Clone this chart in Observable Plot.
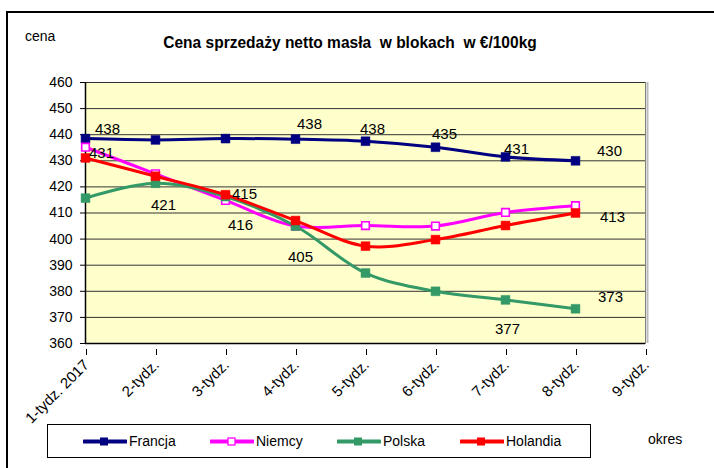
<!DOCTYPE html>
<html>
<head>
<meta charset="utf-8">
<script src="https://cdn.jsdelivr.net/npm/d3@7"></script>
<script src="https://cdn.jsdelivr.net/npm/@observablehq/plot@0.6"></script>
<style>
  body { margin: 0; background: #fff; font-family: Arial, "Liberation Sans", sans-serif; }
  #wrap { position: relative; width: 714px; height: 468px; overflow: hidden; }
  #box { position: absolute; left: 6px; top: 11px; width: 720px; height: 470px; border-left: 2px solid #000; border-top: 2px solid #000; }
  #chart { position: absolute; left: 0; top: 0; }
  .lbl { position: absolute; color: #000; white-space: nowrap; }
  #title { left: 0; width: 700px; text-align: center; top: 34px; font-weight: bold; font-size: 16px; transform: scaleX(0.97); }
  #cena { left: 25px; top: 28px; font-size: 14px; }
  #okres { left: 648px; top: 431px; font-size: 14px; }
  #legend { position: absolute; left: 47px; top: 424px; width: 542px; height: 32px; border: 1px solid #000; background: #fff; }
  .item { position: absolute; top: 0; height: 32px; display: flex; align-items: center; font-size: 14px; }
  .item svg { margin-right: 2px; }
</style>
</head>
<body>
<div id="wrap">
  <div id="box"></div>
  <div id="chart"></div>
  <div class="lbl" id="cena">cena</div>
  <div class="lbl" id="title">Cena sprzedaży netto masła&nbsp; w blokach&nbsp; w €/100kg</div>
  <div id="legend"></div>
  <div class="lbl" id="okres">okres</div>
</div>
<script>
// ---- data ----
const weeks = ["1-tydz. 2017", "2-tydz.", "3-tydz.", "4-tydz.", "5-tydz.", "6-tydz.", "7-tydz.", "8-tydz.", "9-tydz."];
const seriesNames = ["Francja", "Niemcy", "Polska", "Holandia"];
const francja  = [438.5, 438.0, 438.5, 438.3, 437.5, 435.2, 431.5, 430.0];
const niemcy   = [435.2, 425.0, 414.8, 405.0, 405.2, 405.0, 410.2, 412.8];
const polska   = [415.7, 421.4, 416.3, 405.0, 387.0, 380.0, 376.7, 373.3];
const holandia = [431.1, 424.1, 417.0, 407.1, 397.3, 399.8, 405.2, 410.0];
const yTicks = [360, 370, 380, 390, 400, 410, 420, 430, 440, 450, 460];
// data labels: [series, week index, text]
const labels = [
  ["Francja", 0, "438"], ["Holandia", 0, "431"], ["Polska", 1, "421"],
  ["Niemcy", 2, "415"], ["Polska", 2, "416"], ["Francja", 3, "438"],
  ["Niemcy", 3, "405"], ["Francja", 4, "438"], ["Francja", 5, "435"],
  ["Francja", 6, "431"], ["Polska", 6, "377"], ["Francja", 7, "430"],
  ["Niemcy", 7, "413"], ["Polska", 7, "373"]
];

// ---- styling ----
const colors = {Francja: "#000080", Niemcy: "#FF00FF", Polska: "#339966", Holandia: "#FF0000"};
const hollow = {Niemcy: true};
const labelOffsets = [
  [22, -9], [16, -5], [8, 22], [19, -6], [15, 29], [14, -15], [5, 31],
  [7, -12], [9, -13], [11, -8], [2, 29], [34, -10], [37, 11], [35, -12]
];

const valuesBy = {Francja: francja, Niemcy: niemcy, Polska: polska, Holandia: holandia};
const rows = s => valuesBy[s].map((v, i) => ({series: s, week: weeks[i], value: v}));

const marks = [
  Plot.frame({fill: "#FFFFCC", stroke: "#808080"}),
  Plot.ruleY(yTicks.slice(1), {stroke: "#333", strokeWidth: 1}),
  Plot.ruleX([weeks[8]], {stroke: "#bbb", strokeWidth: 2, dx: 2}),
  Plot.ruleX([weeks[8]], {stroke: "#808080", strokeWidth: 1}),
  Plot.ruleY([360], {stroke: "#000", strokeWidth: 1.5}),
  Plot.ruleX([weeks[0]], {stroke: "#000", strokeWidth: 1.5}),
  Plot.axisY({ticks: yTicks, tickSize: 5, tickPadding: 8, fontSize: 14, label: null}),
  Plot.axisX({tickRotate: -45, tickSize: 6, tickPadding: 7, dx: 1, dy: 6, fontSize: 15, label: null})
];
for (const s of seriesNames) {
  marks.push(Plot.line(rows(s), {x: "week", y: "value", stroke: colors[s], strokeWidth: 3, curve: "catmull-rom"}));
  marks.push(Plot.dot(rows(s), {
    x: "week", y: "value", symbol: "square", r: hollow[s] ? 4.3 : 5,
    fill: hollow[s] ? "#fff" : colors[s], stroke: colors[s], strokeWidth: hollow[s] ? 1.6 : 0.5
  }));
}
labels.forEach(([s, i, t], k) => {
  marks.push(Plot.text([{week: weeks[i], value: valuesBy[s][i], t}], {
    x: "week", y: "value", text: "t", dx: labelOffsets[k][0], dy: labelOffsets[k][1],
    fontSize: 15, fill: "#000"
  }));
});

const chart = Plot.plot({
  width: 714, height: 468,
  marginLeft: 85, marginRight: 69, marginTop: 82, marginBottom: 125,
  x: {type: "point", domain: weeks, padding: 0, label: null},
  y: {domain: [360, 460], label: null},
  style: {fontFamily: "Arial, 'Liberation Sans', sans-serif", background: "transparent", color: "#000"},
  marks
});
document.getElementById("chart").appendChild(chart);

// legend
const legend = document.getElementById("legend");
const legendX = [35, 162, 289, 412];
seriesNames.forEach((s, k) => {
  const div = document.createElement("div");
  div.className = "item";
  div.style.left = legendX[k] + "px";
  const c = colors[s];
  const mk = hollow[s]
    ? `<rect x="18" y="4" width="7" height="7" fill="#fff" stroke="${c}" stroke-width="1.3"/>`
    : `<rect x="17" y="3.5" width="8" height="8" fill="${c}"/>`;
  div.innerHTML = `<svg width="44" height="15"><line x1="1" x2="43" y1="7.5" y2="7.5" stroke="${c}" stroke-width="4" stroke-linecap="round"/>${mk}</svg><span>${s}</span>`;
  legend.appendChild(div);
});
</script>
</body>
</html>
